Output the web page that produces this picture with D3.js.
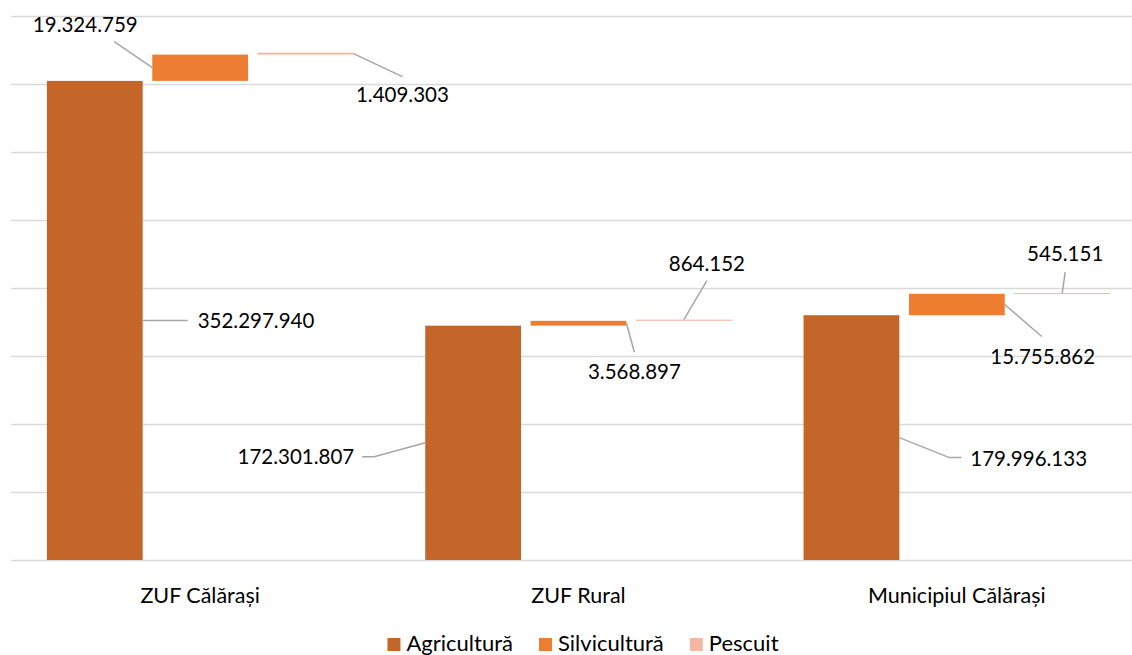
<!DOCTYPE html>
<html>
<head>
<meta charset="utf-8">
<script src="https://cdn.jsdelivr.net/npm/d3@7"></script>
<style>
  html, body { margin: 0; padding: 0; background: #fff; }
  svg { display: block; font-family: Lato, 'Open Sans', sans-serif; }
</style>
</head>
<body>
<svg id="chart" width="1132" height="655"></svg>
<script>
// ── Data ──────────────────────────────────────────────────────────────────────
const categories   = ['ZUF Călărași', 'ZUF Rural', 'Municipiul Călărași'];
const seriesNames  = ['Agricultură', 'Silvicultură', 'Pescuit'];
const agricultura  = [352297940, 172301807, 179996133];
const silvicultura = [19324759, 3568897, 15755862];
const pescuit      = [1409303, 864152, 545151];
const yTicks       = [0, 50e6, 100e6, 150e6, 200e6, 250e6, 300e6, 350e6, 400e6];

const colors = ['#c4662a', '#ed7d31', '#f4b8a2'];

// ── Dimensions ────────────────────────────────────────────────────────────────
const W = 1132, H = 655;
const plot = { left: 11, right: 1146, top: 16, bottom: 560 };

const fmt = d3.formatLocale({ decimal: ',', thousands: '.', grouping: [3], currency: ['', ''] }).format(',d');

// label placement: offsets from the leader anchor on the bar
const labelLayout = [
  [
    { side: 'right', pts: [[45, 0]],             t: [55, 0, 'start'] },
    { side: 'left',  pts: [[-38, -26]],          t: [-67, -43, 'middle'] },
    { side: 'right', pts: [[49, 23]],            t: [49, 41, 'middle'] }
  ],
  [
    { side: 'left',  pts: [[-51, 14], [-63, 14]], t: [-71, 14, 'end'] },
    { side: 'right', pts: [[8, 29]],             t: [8, 48.5, 'middle'] },
    { side: 'top',   pts: [[23, -39]],           t: [23, -56, 'middle'] }
  ],
  [
    { side: 'right', pts: [[50, 20], [62, 20]],  t: [71, 21, 'start'] },
    { side: 'right', pts: [[37, 32]],            t: [38, 52.5, 'middle'] },
    { side: 'top',   pts: [[3, -21]],            t: [3, -39.5, 'middle'] }
  ]
];

// ── Chart ─────────────────────────────────────────────────────────────────────
const svg = d3.select('#chart');

const x0 = d3.scaleBand()
  .domain(categories)
  .range([plot.left, plot.right]);

const x1 = d3.scaleBand()
  .domain(seriesNames)
  .range([0, x0.bandwidth()])
  .paddingInner(0.0909)
  .paddingOuter(0.3406);

const y = d3.scaleLinear()
  .domain([0, 400e6])
  .range([plot.bottom, plot.top]);

// Grid
svg.append('g')
  .attr('transform', `translate(${plot.left},0)`)
  .call(d3.axisLeft(y).tickValues(yTicks).tickSize(-(W - plot.left)).tickFormat(''))
  .call(g => g.select('.domain').remove())
  .call(g => g.selectAll('.tick line').attr('stroke', '#d9d9d9').attr('stroke-width', 1.5));

// Stacked (waterfall) segments
const values = [agricultura, silvicultura, pescuit];
const segs = [];
categories.forEach((c, ci) => {
  let base = 0;
  seriesNames.forEach((s, si) => {
    const v = values[si][ci];
    segs.push({ c, ci, s, si, v, y0: base, y1: base + v });
    base += v;
  });
});

svg.append('g')
  .selectAll('rect')
  .data(segs)
  .join('rect')
  .attr('x', d => x0(d.c) + x1(d.s))
  .attr('width', x1.bandwidth())
  .attr('y', d => y(d.y1))
  .attr('height', d => Math.max(1, y(d.y0) - y(d.y1)))
  .attr('fill', d => colors[d.si]);

// Data labels with leader lines
const lab = svg.append('g');
segs.forEach(d => {
  const L = labelLayout[d.ci][d.si];
  const bx = x0(d.c) + x1(d.s);
  const bw = x1.bandwidth();
  const midY = (y(d.y0) + y(d.y1)) / 2;
  let ax, ay;
  if (L.side === 'right') { ax = bx + bw; ay = midY; }
  else if (L.side === 'left') { ax = bx; ay = midY; }
  else { ax = bx + bw / 2; ay = y(d.y1); }

  const pts = [[ax, ay]].concat(L.pts.map(p => [ax + p[0], ay + p[1]]));
  lab.append('path')
    .attr('d', d3.line()(pts))
    .attr('fill', 'none')
    .attr('stroke', '#a6a6a6')
    .attr('stroke-width', 1.5);

  lab.append('text')
    .attr('x', ax + L.t[0])
    .attr('y', ay + L.t[1])
    .attr('dy', '0.36em')
    .attr('text-anchor', L.t[2])
    .attr('font-size', 20.5)
    .attr('fill', '#000')
    .text(fmt(d.v));
});

// Category axis labels
svg.append('g')
  .selectAll('text')
  .data(categories)
  .join('text')
  .attr('x', d => x0(d) + x0.bandwidth() / 2)
  .attr('y', 603)
  .attr('text-anchor', 'middle')
  .attr('font-size', 21.5)
  .attr('fill', '#000')
  .text(d => d);

// ── Legend ────────────────────────────────────────────────────────────────────
const legend = svg.append('g');
let lx = 0;
seriesNames.forEach((s, i) => {
  const item = legend.append('g').attr('transform', `translate(${lx},0)`);
  item.append('rect')
    .attr('x', 0).attr('y', 638)
    .attr('width', 13).attr('height', 13)
    .attr('fill', colors[i]);
  const t = item.append('text')
    .attr('x', 19).attr('y', 651)
    .attr('font-size', 22)
    .attr('fill', '#000')
    .text(s);
  lx += 19 + t.node().getComputedTextLength() + 26;
});
const legW = lx - 26;
legend.attr('transform', `translate(${583 - legW / 2},0)`);
</script>
</body>
</html>
